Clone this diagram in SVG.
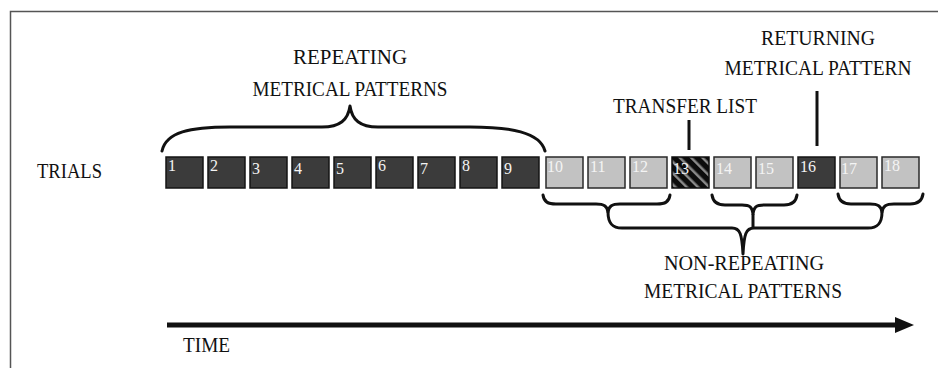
<svg xmlns="http://www.w3.org/2000/svg" width="938" height="368" viewBox="0 0 938 368">
<style>
text{font-family:"Liberation Serif","Times New Roman",serif;fill:#111;}
.lbl{font-size:20.5px;}
.mid{text-anchor:middle;}
.num{font-size:16px;fill:#f4f4f4;}
.dk{fill:#3b3b3b;stroke:#151515;stroke-width:1.5;}
.lt{fill:#c2c2c2;stroke:#2a2a2a;stroke-width:1.5;}
.br{fill:none;stroke:#111;stroke-width:3;stroke-linecap:round;stroke-linejoin:round;}
.ln{stroke:#111;stroke-width:3;}
</style>
<defs>
<pattern id="hatch" width="8" height="8" patternUnits="userSpaceOnUse" patternTransform="rotate(-45)">
<rect width="8" height="8" fill="#0c0c0c"/>
<rect width="2.5" height="8" fill="#8a8a8a"/>
</pattern>
</defs>
<rect width="938" height="368" fill="#fff"/>
<path d="M10.5,368 V11.5 H938" fill="none" stroke="#555" stroke-width="1.5"/>

<g id="labels">
<text class="lbl" x="37" y="178" textLength="65" lengthAdjust="spacingAndGlyphs">TRIALS</text>
<text class="lbl" x="183" y="352" textLength="47" lengthAdjust="spacingAndGlyphs">TIME</text>
</g>
<g id="repeating-label">
<text class="lbl mid" x="350" y="64" textLength="114" lengthAdjust="spacingAndGlyphs">REPEATING</text>
<text class="lbl mid" x="350" y="96" textLength="195" lengthAdjust="spacingAndGlyphs">METRICAL PATTERNS</text>
</g>
<g id="transfer-label">
<text class="lbl mid" x="685" y="113" textLength="144" lengthAdjust="spacingAndGlyphs">TRANSFER LIST</text>
</g>
<g id="returning-label">
<text class="lbl mid" x="818" y="45" textLength="114" lengthAdjust="spacingAndGlyphs">RETURNING</text>
<text class="lbl mid" x="818" y="75" textLength="187" lengthAdjust="spacingAndGlyphs">METRICAL PATTERN</text>
</g>
<g id="nonrepeating-label">
<text class="lbl mid" x="744" y="270" textLength="160" lengthAdjust="spacingAndGlyphs">NON-REPEATING</text>
<text class="lbl mid" x="743" y="298" textLength="198" lengthAdjust="spacingAndGlyphs">METRICAL PATTERNS</text>
</g>

<g id="trial-1"><rect class="dk" x="166" y="157" width="37" height="31"/><text class="num" x="168" y="171">1</text></g>
<g id="trial-2"><rect class="dk" x="208" y="157" width="37" height="31"/><text class="num" x="210" y="171">2</text></g>
<g id="trial-3"><rect class="dk" x="250" y="157" width="37" height="31"/><text class="num" x="252" y="174">3</text></g>
<g id="trial-4"><rect class="dk" x="292" y="157" width="37" height="31"/><text class="num" x="294" y="174">4</text></g>
<g id="trial-5"><rect class="dk" x="334" y="157" width="37" height="31"/><text class="num" x="336" y="174">5</text></g>
<g id="trial-6"><rect class="dk" x="376" y="157" width="37" height="31"/><text class="num" x="378" y="171">6</text></g>
<g id="trial-7"><rect class="dk" x="418" y="157" width="37" height="31"/><text class="num" x="420" y="174">7</text></g>
<g id="trial-8"><rect class="dk" x="460" y="157" width="37" height="31"/><text class="num" x="462" y="171">8</text></g>
<g id="trial-9"><rect class="dk" x="502" y="157" width="37" height="31"/><text class="num" x="504" y="174">9</text></g>
<g id="trial-10"><rect class="lt" x="546" y="157" width="37" height="31"/><text class="num" x="547" y="172">10</text></g>
<g id="trial-11"><rect class="lt" x="588" y="157" width="37" height="31"/><text class="num" x="590" y="172">11</text></g>
<g id="trial-12"><rect class="lt" x="630" y="157" width="37" height="31"/><text class="num" x="632" y="172">12</text></g>
<g id="trial-13"><rect x="672" y="157" width="37" height="31" fill="url(#hatch)" stroke="#0c0c0c" stroke-width="1.5"/><text class="num" x="673" y="174">13</text></g>
<g id="trial-14"><rect class="lt" x="714" y="157" width="37" height="31"/><text class="num" x="716" y="174">14</text></g>
<g id="trial-15"><rect class="lt" x="756" y="157" width="37" height="31"/><text class="num" x="758" y="174">15</text></g>
<g id="trial-16"><rect class="dk" x="798" y="157" width="37" height="31"/><text class="num" x="800" y="172">16</text></g>
<g id="trial-17"><rect class="lt" x="840" y="157" width="37" height="31"/><text class="num" x="841" y="174">17</text></g>
<g id="trial-18"><rect class="lt" x="882" y="157" width="37" height="31"/><text class="num" x="884" y="171">18</text></g>

<g id="connectors">
<path class="br" d="M162,151 C166,132 190,127 230,127 L322,127 C340,127 348,120 350,106 C352,120 360,127 378,127 L470,127 C510,127 540,132 545,151"/>
<line class="ln" x1="689" y1="120" x2="689" y2="150"/>
<line class="ln" x1="817" y1="91" x2="817" y2="146"/>
<path class="br" d="M543,195 C544,202 548,204 556,204 L596,204 C604,204 607,206 608,212 C609,206 612,204 620,204 L657,204 C665,204 669,202 670,195"/>
<path class="br" d="M712,195 C713,202 717,205 725,205 L742,205 C750,205 752,207 753,214 C754,207 756,205 764,205 L784,205 C792,205 796,202 797,195"/>
<path class="br" d="M838,194 C839,201 843,204 851,204 L870,204 C878,204 881,206 882,212 C883,206 886,204 894,204 L910,204 C918,204 922,201 923,194"/>
<path class="br" d="M608,212 C608,223 612,228 622,228 L732,228 C740,228 742,234 743,254 C744,234 746,228 754,228 L868,228 C878,228 882,223 882,212"/>
<line x1="753" y1="214" x2="753" y2="228" class="ln"/>
<line x1="167" y1="325" x2="898" y2="325" stroke="#111" stroke-width="5"/>
<polygon points="895,317 914,325 895,333" fill="#111"/>
</g>
</svg>
